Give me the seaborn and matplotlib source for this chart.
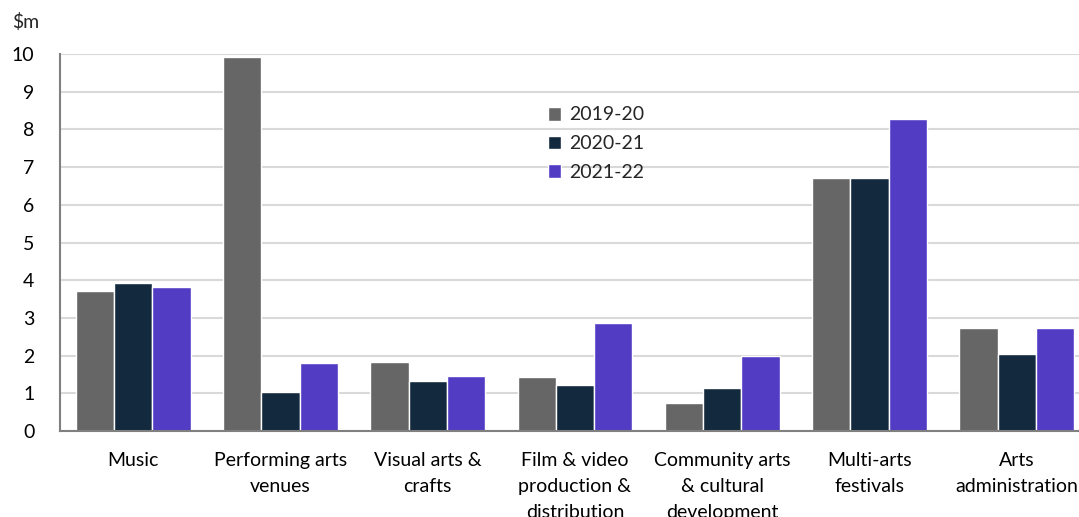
import matplotlib
matplotlib.use("Agg")
import matplotlib.pyplot as plt
import seaborn as sns
import pandas as pd

categories = ["Music", "Performing arts\nvenues", "Visual arts &\ncrafts",
              "Film & video\nproduction &\ndistribution",
              "Community arts\n& cultural\ndevelopment",
              "Multi-arts\nfestivals", "Arts\nadministration"]
years = ["2019-20", "2020-21", "2021-22"]
v_2019_20 = [3.72, 9.93, 1.82, 1.42, 0.73, 6.70, 2.72]
v_2020_21 = [3.92, 1.03, 1.32, 1.22, 1.13, 6.70, 2.03]
v_2021_22 = [3.81, 1.80, 1.46, 2.87, 1.98, 8.27, 2.74]
colors = ["#666666", "#13293D", "#523CC4"]

rows = []
for y, vals in zip(years, [v_2019_20, v_2020_21, v_2021_22]):
    for c, v in zip(categories, vals):
        rows.append({"category": c, "year": y, "value": v})
df = pd.DataFrame(rows)

sns.set_theme(style="white")
plt.rcParams['font.family'] = ['Lato', 'DejaVu Sans']

fig = plt.figure(figsize=(10.79, 5.17), dpi=100)
ax = fig.add_axes([59.5 / 1079, 86 / 517, 1031 / 1079, 377 / 517])

sns.barplot(data=df, x="category", y="value", hue="year", palette=colors,
            order=categories, hue_order=years, width=0.78,
            edgecolor="white", linewidth=1, saturation=1, ax=ax)

ax.set_xlim(-0.5, 6.5)
ax.set_ylim(0, 10)
ax.set_yticks(range(0, 11))
ax.yaxis.grid(True, color="#d9d9d9", linewidth=1.5)
ax.set_axisbelow(True)
for s in ["top", "right"]:
    ax.spines[s].set_visible(False)
for s in ["left", "bottom"]:
    ax.spines[s].set_color("#808080")
    ax.spines[s].set_linewidth(1.5)
ax.tick_params(axis="both", length=0, labelsize=14, colors="black")
ax.tick_params(axis="y", pad=18)
ax.tick_params(axis="x", pad=15)
ax.set_xlabel("")
ax.set_ylabel("")
for lbl in ax.get_xticklabels():
    lbl.set_linespacing(1.65)

fig.text(12 / 1079, 1 - 22 / 517, "$m", fontsize=14, va="center", ha="left")

ax.legend(loc="upper left", bbox_to_anchor=(530 / 1079, 1 - 89 / 517),
          bbox_transform=fig.transFigure, frameon=False, fontsize=14,
          handlelength=0.7, handleheight=0.7, handletextpad=0.4,
          labelspacing=0.6, title=None)

fig.savefig("out.png", dpi=100)
